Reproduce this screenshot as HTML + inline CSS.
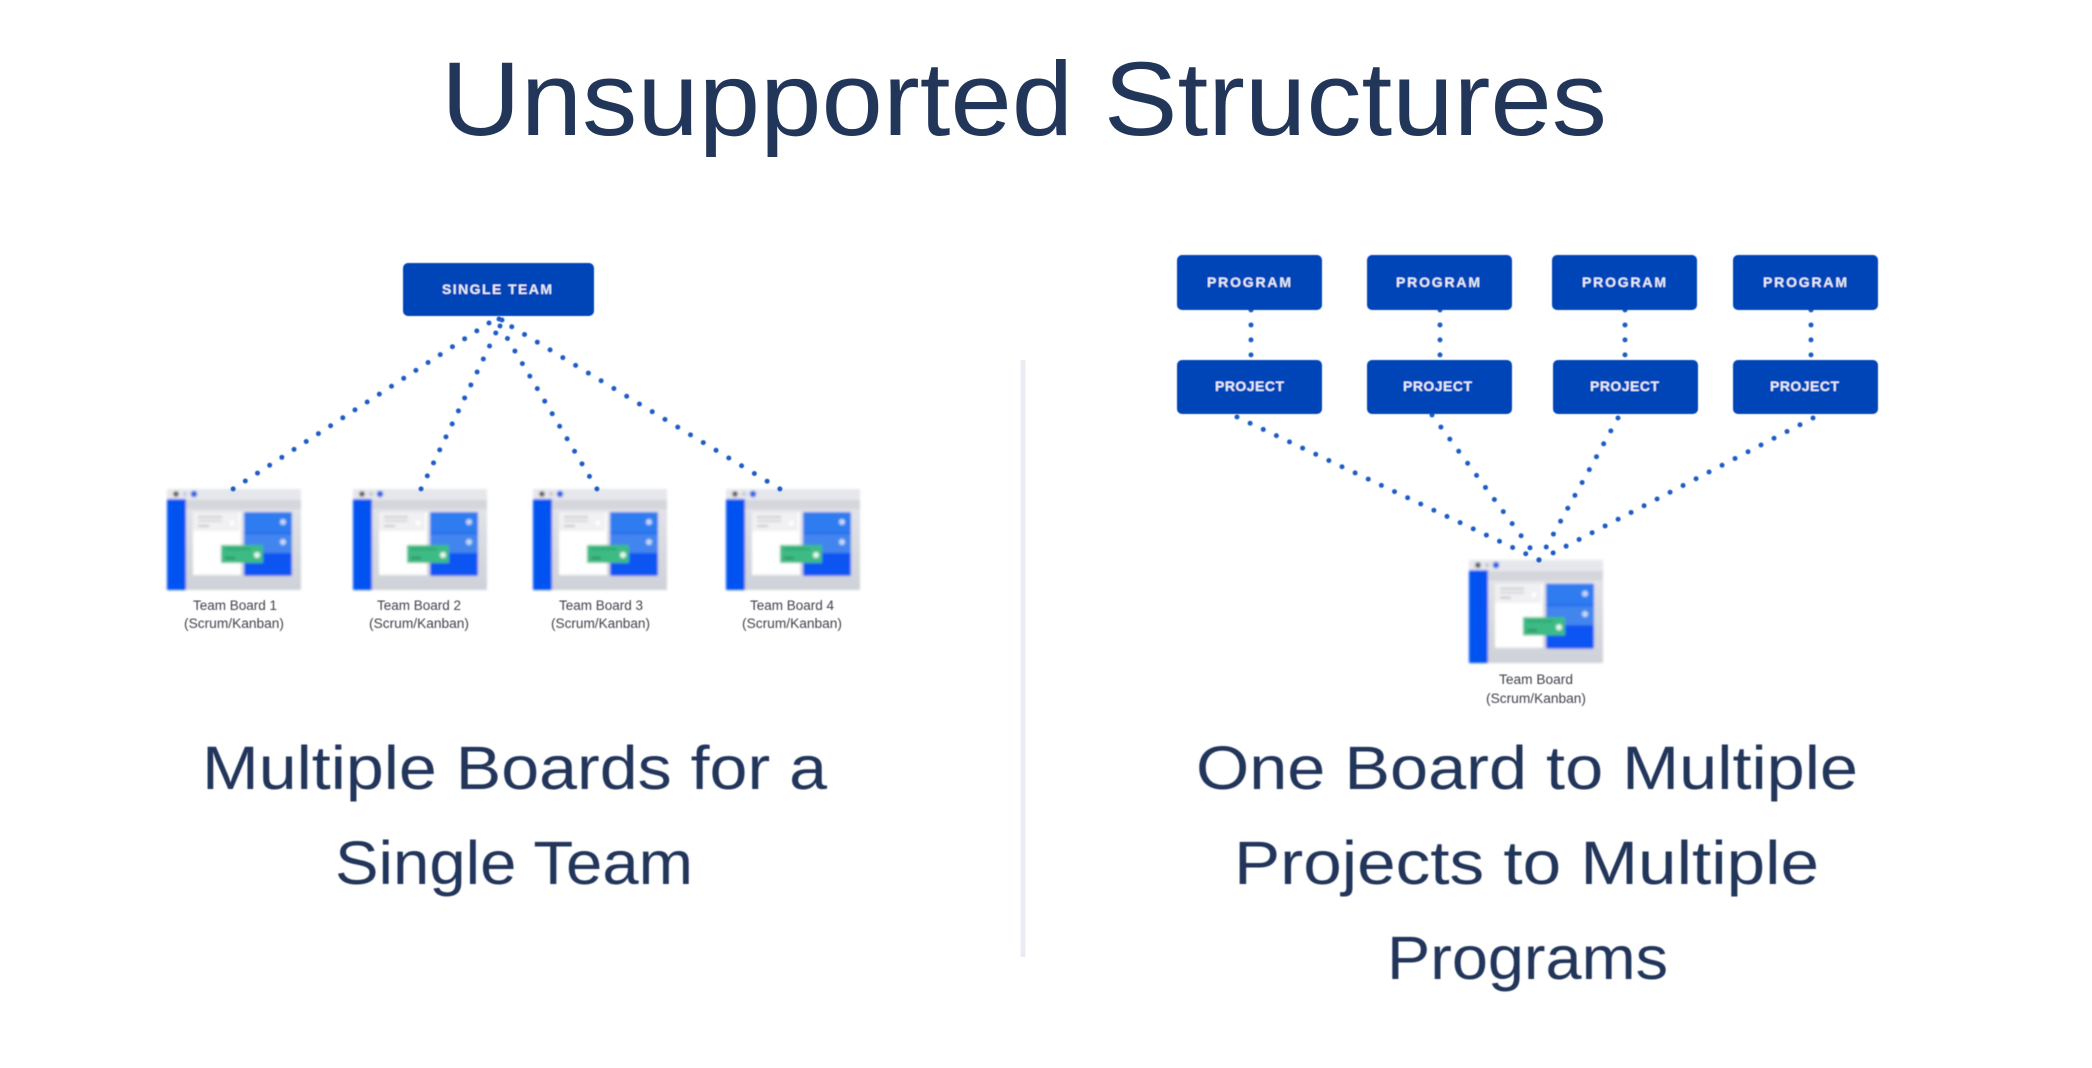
<!DOCTYPE html>
<html><head><meta charset="utf-8"><style>
html,body{margin:0;padding:0;background:#fff;width:2092px;height:1068px;overflow:hidden}
svg{display:block}
text{font-family:"Liberation Sans",sans-serif}
.h{fill:#22365a;text-anchor:start}
.bx{fill:#0545b8}
.bt{fill:#e8eefb;font-weight:bold;font-size:14px}
.lb{fill:#3f434c;font-size:13.5px;text-anchor:start}
.d{stroke:#1d5cc4;stroke-width:5;stroke-linecap:round;stroke-dasharray:0 1;fill:none}
</style></head><body>
<svg width="2092" height="1068" viewBox="0 0 2092 1068" xmlns="http://www.w3.org/2000/svg">
<defs>
<filter id="b1" x="-5%" y="-5%" width="110%" height="110%"><feGaussianBlur stdDeviation="1.2"/></filter>
<filter id="b2" x="-20%" y="-20%" width="140%" height="140%"><feGaussianBlur stdDeviation="0.45"/></filter>
<filter id="b3" x="-5%" y="-20%" width="110%" height="140%"><feGaussianBlur stdDeviation="0.55"/></filter>
<filter id="b4" x="-5%" y="-20%" width="110%" height="140%"><feGaussianBlur stdDeviation="0.65"/></filter>
<linearGradient id="g" x1="0" y1="0" x2="0" y2="1"><stop offset="0" stop-color="#e6e7eb"/><stop offset="1" stop-color="#ced1d8"/></linearGradient>
<g id="board">
<rect x="0" y="0" width="134" height="101" fill="url(#g)"/>
<rect x="0" y="0" width="134" height="11" fill="#e6e7ec"/>
<rect x="19" y="11" width="115" height="9" fill="#d4d6dc"/>
<circle cx="9" cy="5" r="2.8" fill="#555"/><circle cx="18" cy="5" r="2" fill="#c4c6cc"/><circle cx="27" cy="5" r="3.2" fill="#1a5fe0"/>
<rect x="0" y="10" width="19" height="91" fill="#0052f0"/>
<rect x="26" y="23" width="48" height="63" fill="#fff"/>
<rect x="26" y="23" width="46" height="19" fill="#f1f1f3"/>
<rect x="31" y="27" width="24" height="2" fill="#c9cad0"/><rect x="31" y="31" width="24" height="2" fill="#d5d6da"/><rect x="31" y="36" width="11" height="2" fill="#c4c5ca"/>
<circle cx="65" cy="34" r="2.5" fill="#fff"/>
<rect x="77" y="23" width="48" height="64" rx="2" fill="#0a55f2"/>
<rect x="77" y="23" width="48" height="21" rx="2" fill="#2f7bf0"/>
<rect x="77" y="45" width="48" height="19" fill="#4285ee"/>
<circle cx="116" cy="33" r="3" fill="#c6d9f8"/><circle cx="116" cy="53" r="3" fill="#c6d9f8"/>
<rect x="54" y="56" width="42" height="18" fill="#3cbb85"/>
<rect x="58" y="59" width="26" height="2" fill="#2fa56d"/><rect x="58" y="68" width="10" height="2" fill="#2a8a5a"/>
<circle cx="90" cy="66" r="3" fill="#e6f7ef"/>
</g>
</defs>
<rect width="2092" height="1068" fill="#fff"/>

<text class="h" x="441" y="135" font-size="105" textLength="1166" lengthAdjust="spacingAndGlyphs">Unsupported Structures</text>

<rect x="1020.5" y="360" width="5" height="597" fill="#eaecf4"/>

<g filter="url(#b3)">
<text class="h" x="202" y="789" font-size="61" textLength="625" lengthAdjust="spacingAndGlyphs">Multiple Boards for a</text>
<text class="h" x="335" y="884" font-size="61" textLength="358" lengthAdjust="spacingAndGlyphs">Single Team</text>
<text class="h" x="1196" y="789" font-size="61" textLength="662" lengthAdjust="spacingAndGlyphs">One Board to Multiple</text>
<text class="h" x="1234" y="884" font-size="61" textLength="585" lengthAdjust="spacingAndGlyphs">Projects to Multiple</text>
<text class="h" x="1387" y="979" font-size="61" textLength="281" lengthAdjust="spacingAndGlyphs">Programs</text>
</g>

<g filter="url(#b1)">
<use href="#board" x="167" y="489"/>
<use href="#board" x="353" y="489"/>
<use href="#board" x="533" y="489"/>
<use href="#board" x="726" y="489"/>
<use href="#board" transform="translate(1469 560) scale(1 1.02)"/>
</g>

<g filter="url(#b2)">
<line class="d" pathLength="21.01" x1="489" y1="323" x2="233" y2="489"/>
<line class="d" pathLength="13.01" x1="502" y1="320" x2="421" y2="489"/>
<line class="d" pathLength="13.01" x1="500" y1="326" x2="597" y2="489"/>
<line class="d" pathLength="22.01" x1="499" y1="319" x2="780" y2="489"/>
<line class="d" pathLength="3.01" x1="1251" y1="310" x2="1251" y2="355"/>
<line class="d" pathLength="3.01" x1="1440" y1="310" x2="1440" y2="355"/>
<line class="d" pathLength="3.01" x1="1625" y1="310" x2="1625" y2="355"/>
<line class="d" pathLength="3.01" x1="1811" y1="310" x2="1811" y2="355"/>
<line class="d" pathLength="23.01" x1="1237" y1="417" x2="1539" y2="560"/>
<line class="d" pathLength="12.01" x1="1432" y1="415" x2="1539" y2="560"/>
<line class="d" pathLength="11.01" x1="1618" y1="418" x2="1539" y2="560"/>
<line class="d" pathLength="20.01" x1="1813" y1="418" x2="1553" y2="553"/>
</g>

<g filter="url(#b2)">
<rect class="bx" x="403" y="263" width="191" height="53" rx="5"/>
<rect class="bx" x="1177" y="255" width="145" height="55" rx="5"/>
<rect class="bx" x="1367" y="255" width="145" height="55" rx="5"/>
<rect class="bx" x="1552" y="255" width="145" height="55" rx="5"/>
<rect class="bx" x="1733" y="255" width="145" height="55" rx="5"/>
<rect class="bx" x="1177" y="360" width="145" height="54" rx="5"/>
<rect class="bx" x="1367" y="360" width="145" height="54" rx="5"/>
<rect class="bx" x="1553" y="360" width="145" height="54" rx="5"/>
<rect class="bx" x="1733" y="360" width="145" height="54" rx="5"/>
<text class="bt" x="442" y="294" textLength="110" lengthAdjust="spacing">SINGLE TEAM</text>
<text class="bt" x="1207" y="287" textLength="84" lengthAdjust="spacing">PROGRAM</text>
<text class="bt" x="1396" y="287" textLength="84" lengthAdjust="spacing">PROGRAM</text>
<text class="bt" x="1582" y="287" textLength="84" lengthAdjust="spacing">PROGRAM</text>
<text class="bt" x="1763" y="287" textLength="84" lengthAdjust="spacing">PROGRAM</text>
<text class="bt" x="1215" y="391" textLength="69" lengthAdjust="spacing">PROJECT</text>
<text class="bt" x="1403" y="391" textLength="69" lengthAdjust="spacing">PROJECT</text>
<text class="bt" x="1590" y="391" textLength="69" lengthAdjust="spacing">PROJECT</text>
<text class="bt" x="1770" y="391" textLength="69" lengthAdjust="spacing">PROJECT</text>
</g>

<g filter="url(#b4)">
<text class="lb" x="193" y="610" textLength="84" lengthAdjust="spacingAndGlyphs">Team Board 1</text>
<text class="lb" x="184" y="628" textLength="100" lengthAdjust="spacingAndGlyphs">(Scrum/Kanban)</text>
<text class="lb" x="377" y="610" textLength="84" lengthAdjust="spacingAndGlyphs">Team Board 2</text>
<text class="lb" x="369" y="628" textLength="100" lengthAdjust="spacingAndGlyphs">(Scrum/Kanban)</text>
<text class="lb" x="559" y="610" textLength="84" lengthAdjust="spacingAndGlyphs">Team Board 3</text>
<text class="lb" x="551" y="628" textLength="99" lengthAdjust="spacingAndGlyphs">(Scrum/Kanban)</text>
<text class="lb" x="750" y="610" textLength="84" lengthAdjust="spacingAndGlyphs">Team Board 4</text>
<text class="lb" x="742" y="628" textLength="100" lengthAdjust="spacingAndGlyphs">(Scrum/Kanban)</text>
<text class="lb" x="1499" y="684" textLength="74" lengthAdjust="spacingAndGlyphs">Team Board</text>
<text class="lb" x="1486" y="703" textLength="100" lengthAdjust="spacingAndGlyphs">(Scrum/Kanban)</text>
</g>
</svg>
</body></html>
